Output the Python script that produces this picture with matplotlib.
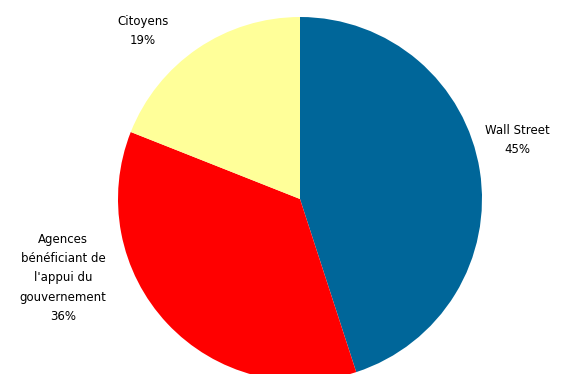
import matplotlib.pyplot as plt

labels = ["Wall Street", "Agences\nbénéficiant de\nl'appui du\ngouvernement", "Citoyens"]
parts = [45, 36, 19]
colors = ["#006699", "#ff0000", "#ffff99"]

fig = plt.figure(figsize=(5.64, 3.74), dpi=100)
ax = fig.add_axes([0, 0, 1, 1])

# pie drawn in pixel coordinates, starting at the top and going clockwise
ax.pie(parts, colors=colors, startangle=90, counterclock=False,
       center=(300, 175), radius=182, frame=True,
       wedgeprops={"linewidth": 0})

ax.set_xlim(0, 564)
ax.set_ylim(0, 374)
ax.set_aspect("equal")
ax.axis("off")

font = {"fontsize": 8.5, "family": "DejaVu Sans", "ha": "center", "va": "center",
        "linespacing": 1.6}
label_pos = [(517, 234), (63, 96), (143, 343)]
for lab, p, (x, y) in zip(labels, parts, label_pos):
    ax.text(x, y, f"{lab}\n{p}%", **font)

fig.savefig("out.png", dpi=100)
